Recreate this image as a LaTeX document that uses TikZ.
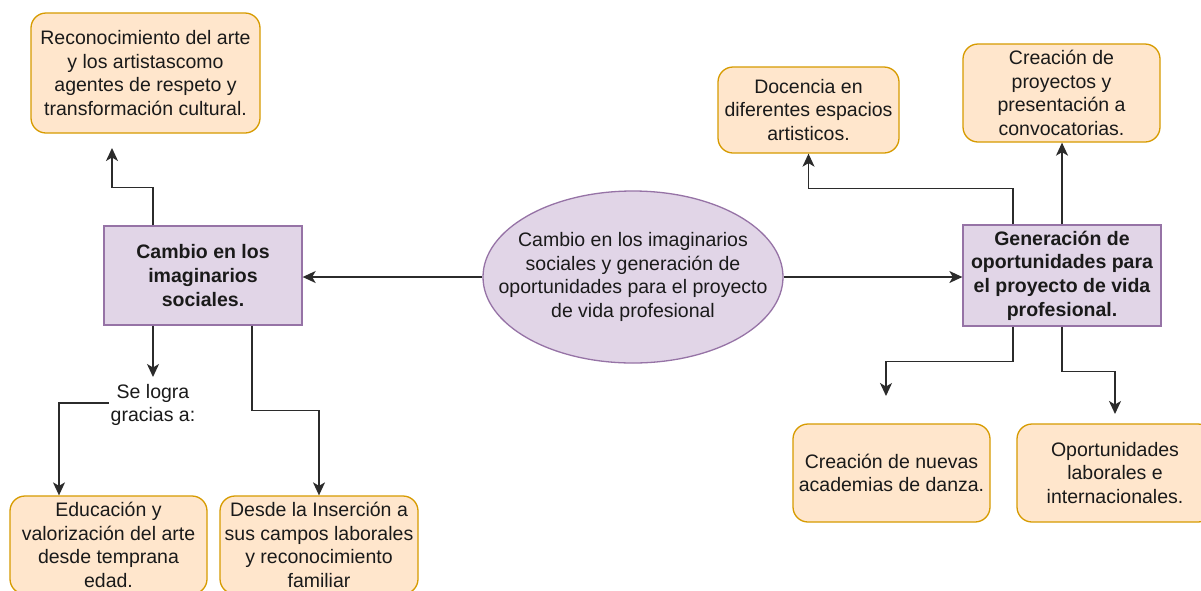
\documentclass[tikz,border=0pt]{standalone}
\usepackage{fontspec}
\setmainfont{Liberation Sans}
\usetikzlibrary{shapes.geometric,arrows.meta,calc}
\definecolor{ofill}{HTML}{FFE6CC}
\definecolor{oline}{HTML}{D79B00}
\definecolor{pfill}{HTML}{E1D5E7}
\definecolor{pline}{HTML}{9673A6}
\definecolor{txt}{HTML}{1A1A1A}
\definecolor{conncol}{HTML}{2B2B2B}
\tikzset{
  base/.style={font=\fontsize{19.5}{23.6}\selectfont, text=txt, align=center, inner sep=2pt},
  obox/.style={base, draw=oline, fill=ofill, line width=1.3pt, rounded corners=15pt},
  pbox/.style={base, draw=pline, fill=pfill, line width=1.3pt, font=\fontsize{19.5}{23.6}\selectfont\bfseries},
  pell/.style={base, ellipse, draw=pline, fill=pfill, line width=1.3pt, inner xsep=-32pt, inner ysep=0pt},
  conn/.style={draw=conncol, line width=1.4pt, -{Stealth[length=13pt,width=12pt,inset=3.5pt]}},
}
\begin{document}
\begin{tikzpicture}[x=1pt,y=-1pt]
\clip (0,0) rectangle (1201,590);
\fill[white] (0,0) rectangle (1201,590);

% nodes
\node[obox, minimum width=229pt, minimum height=120pt] (rec) at (145.5,73)
  {Reconocimiento del arte\\y los artistascomo\\agentes de respeto y\\transformación cultural.};
\node[pbox, minimum width=198pt, minimum height=99pt] (cambio) at (203,275.5)
  {Cambio en los\\imaginarios\\sociales.};
\node[pell, minimum width=300pt, minimum height=172pt] (ell) at (633,277)
  {Cambio en los imaginarios\\sociales y generación de\\oportunidades para el proyecto\\de vida profesional};
\node[pbox, minimum width=198pt, minimum height=101pt] (gen) at (1062,275.5)
  {Generación de\\oportunidades para\\el proyecto de vida\\profesional.};
\node[obox, minimum width=181pt, minimum height=86pt] (doc) at (808.5,110)
  {Docencia en\\diferentes espacios\\artisticos.};
\node[obox, minimum width=197pt, minimum height=98pt] (crp) at (1061.5,93)
  {Creación de\\proyectos y\\presentación a\\convocatorias.};
\node[obox, minimum width=197pt, minimum height=98pt] (nue) at (891.5,473)
  {Creación de nuevas\\academias de danza.};
\node[obox, minimum width=196pt, minimum height=98pt] (opo) at (1115,473)
  {Oportunidades\\laborales e\\internacionales.};
\node[obox, minimum width=197pt, minimum height=98pt] (edu) at (108.5,545)
  {Educación y\\valorización del arte\\desde temprana\\edad.};
\node[obox, minimum width=198pt, minimum height=98pt] (ins) at (319,545)
  {Desde la Inserción a\\sus campos laborales\\y reconocimiento\\familiar};
\node[base] (logra) at (153,405) {Se logra\\gracias a:};

% free ends
\coordinate (c1) at (112,148);
\coordinate (c2) at (153,377);
\coordinate (c3) at (886,396);
\coordinate (c4) at (1115,414);

% connectors
\draw[conn] (ell.west) -- (ell.west -| cambio.east);
\draw[conn] (ell.east) -- (ell.east -| gen.west);
\draw[conn] ([xshift=-50pt]cambio.north) -- ++(0,-38) -| (c1);
\draw[conn] ([xshift=-50pt]cambio.south) -- (c2);
\draw[conn] ([yshift=2pt]logra.west) -| ([xshift=-49.5pt]edu.north);
\draw[conn] ([xshift=49pt]cambio.south) -- ++(0,85) -| (ins.north);
\draw[conn] ([xshift=-49pt]gen.north) -- ++(0,-36) -| (doc.south);
\draw[conn] (gen.north) -- (gen.north |- crp.south);
\draw[conn] ([xshift=-49pt]gen.south) -- ++(0,35) -| (c3);
\draw[conn] (gen.south) -- ++(0,45) -| (c4);
\end{tikzpicture}
\end{document}
